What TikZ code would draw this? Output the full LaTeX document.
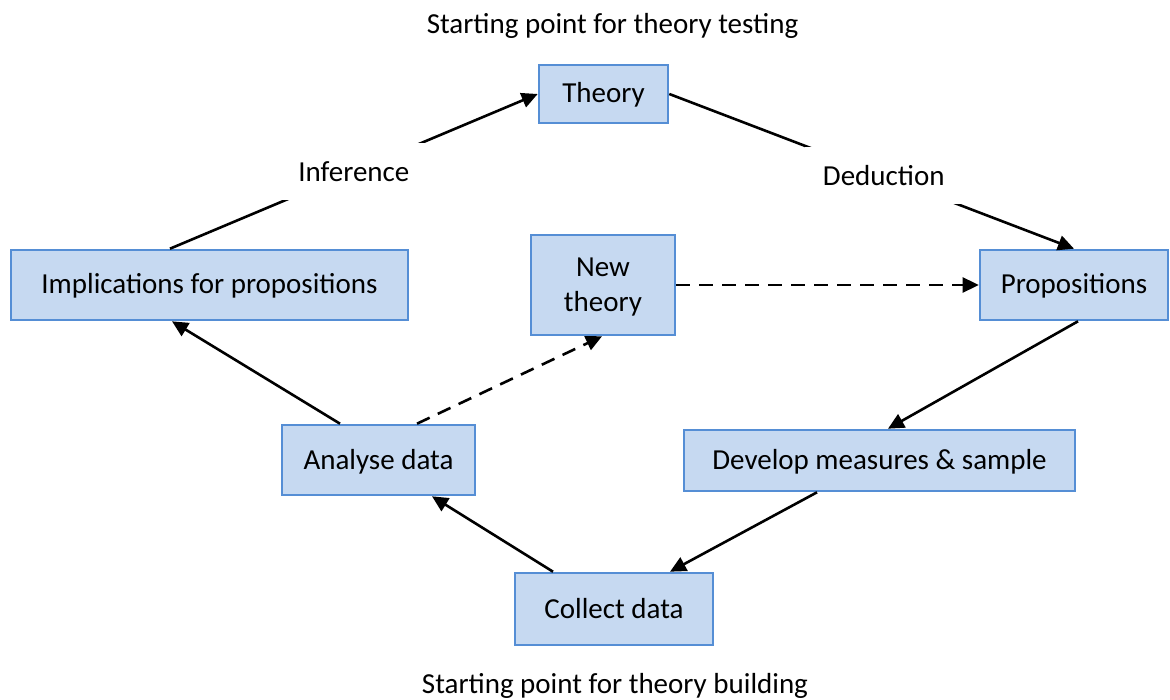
\documentclass[tikz,border=0pt]{standalone}
\usepackage{fontspec}
\setmainfont{Carlito}
\usetikzlibrary{arrows.meta,calc}
\definecolor{boxfill}{HTML}{C6D9F1}
\definecolor{boxline}{HTML}{558ED5}
\begin{document}
\begin{tikzpicture}[x=1pt,y=-1pt,
  every node/.style={font=\fontsize{29}{35}\selectfont, inner sep=0pt},
  stage/.style={draw=boxline, fill=boxfill, line width=2.6pt, align=center,
                text height=22pt, text depth=4pt},
  link/.style={line width=2.6pt, -{Triangle[length=16pt,width=15pt]}},
  dashlink/.style={link, dash pattern=on 14pt off 9pt},
  tag/.style={fill=white, minimum height=57pt, inner xsep=18pt}
]
\useasboundingbox (0,0) rectangle (1170,700);

% stages of the research cycle
\node[stage, minimum width=129pt, minimum height=58pt] (theory) at (603.5,94) {Theory};
\node[stage, minimum width=397pt, minimum height=70pt] (impl) at (209.5,285) {Implications for propositions};
\node[stage, minimum width=144pt, minimum height=100pt, text height=58pt, text depth=4pt] (newt) at (603,285) {New\\theory};
\node[stage, minimum width=188pt, minimum height=70pt] (prop) at (1074,285) {Propositions};
\node[stage, minimum width=193pt, minimum height=70pt] (anal) at (378.5,460) {Analyse data};
\node[stage, minimum width=391pt, minimum height=61pt] (meas) at (879.5,460.5) {Develop measures \& sample};
\node[stage, minimum width=198pt, minimum height=72pt] (coll) at (614,609) {Collect data};

% captions
\node[anchor=base] (top) at (612.5,34) {Starting point for theory testing};
\node[anchor=base] (bottom) at (615,693) {Starting point for theory building};

% solid cycle
\draw[link] ([xshift=-39.5pt]impl.north) -- node[tag, pos=0.5] (inf) {Inference} (theory.west);
\draw[link] (theory.east) -- node[tag, pos=0.53] (ded) {Deduction} (prop.north);
\draw[link] ([xshift=4pt]prop.south) -- ([xshift=8.5pt]meas.north);
\draw[link] ([xshift=-62.5pt]meas.south) -- ([xshift=56pt]coll.north);
\draw[link] ([xshift=-61pt]coll.north) -- ([xshift=53.5pt]anal.south);
\draw[link] ([xshift=-38.5pt]anal.north) -- ([xshift=-37.5pt]impl.south);

% theory-building shortcut
\draw[dashlink] ([xshift=38.5pt]anal.north) -- ([xshift=-1pt]newt.south);
\draw[dashlink] (newt.east) -- (prop.west);
\end{tikzpicture}
\end{document}
